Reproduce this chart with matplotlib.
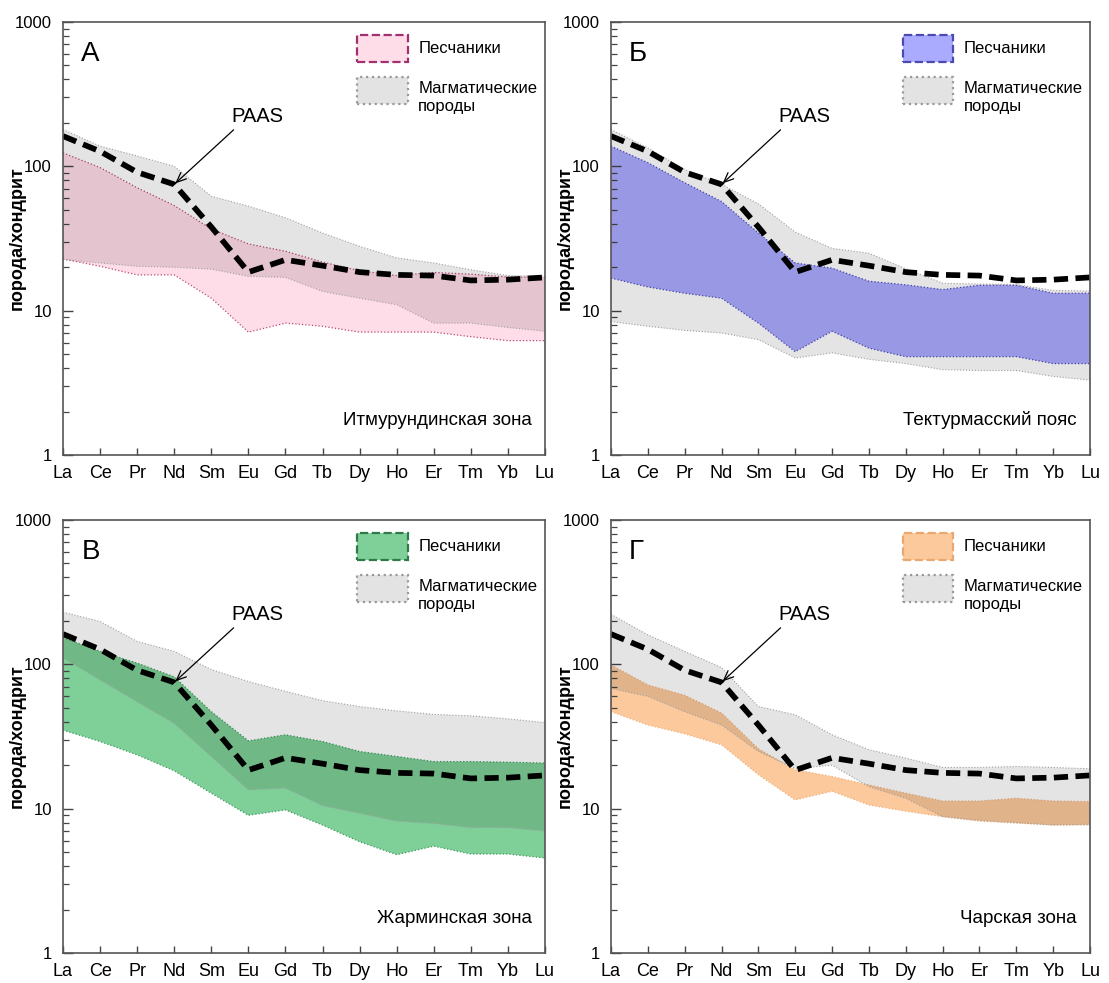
import numpy as np
import matplotlib
matplotlib.use("Agg")
import matplotlib.pyplot as plt
from matplotlib.patches import Rectangle
from matplotlib.ticker import LogLocator, NullFormatter

plt.rcParams['font.family'] = ['Liberation Sans', 'DejaVu Sans']

# Rare earth elements (x categories)
ree = ['La', 'Ce', 'Pr', 'Nd', 'Sm', 'Eu', 'Gd', 'Tb', 'Dy', 'Ho', 'Er', 'Tm', 'Yb', 'Lu']

# Post-Archean Australian Shale, chondrite-normalised
paas = [162, 127, 91, 75, 38, 18.5, 22.5, 20.5, 18.5, 17.7, 17.5, 16.2, 16.4, 17.0]

# А — Итмурундинская зона
sand_a_hi = [124, 98, 71, 53.5, 36.8, 29, 25.8, 21.7, 18.9, 17.5, 18.4, 17.9, 17.1, 17.0]
sand_a_lo = [22.8, 20.3, 17.7, 17.7, 12.2, 7.1, 8.2, 7.8, 7.1, 7.1, 7.1, 6.6, 6.2, 6.2]
magm_a_hi = [180, 138, 118, 100, 62, 53, 44, 34.5, 27.9, 23.2, 21.4, 19.2, 17.5, 17.3]
magm_a_lo = [22.6, 21.4, 20.3, 20, 19.4, 17.3, 17.0, 13.6, 12.2, 11.0, 8.2, 8.2, 7.65, 7.2]

# Б — Тектурмасский пояс
sand_b_hi = [138, 106, 77, 57, 34.5, 21.4, 19.7, 16, 15.1, 14, 15, 15, 13.2, 13.2]
sand_b_lo = [16.8, 14.6, 13.2, 12.2, 8.2, 5.2, 7.2, 5.5, 4.8, 4.8, 4.8, 4.8, 4.3, 4.3]
magm_b_hi = [180, 134, 95, 75, 55, 35, 27, 25, 19.5, 15.5, 15.3, 15.2, 13.8, 13.7]
magm_b_lo = [8.4, 7.8, 7.3, 7.0, 6.3, 4.7, 5.1, 4.6, 4.3, 3.9, 3.85, 3.85, 3.5, 3.3]

# В — Жарминская зона
sand_c_hi = [153, 123, 102, 82, 47, 29.5, 32.5, 29.2, 24.9, 23, 21.2, 21.2, 21, 20.7]
sand_c_lo = [35, 29.2, 23.6, 18.3, 12.8, 9.0, 9.8, 7.7, 5.9, 4.8, 5.5, 4.85, 4.85, 4.55]
magm_c_hi = [230, 198, 144, 123, 92, 76, 65, 56, 51, 47.6, 45, 44, 41.9, 39.5]
magm_c_lo = [111, 78, 55, 39, 23, 13.5, 13.9, 10.5, 9.3, 8.2, 7.9, 7.4, 7.4, 7.0]

# Г — Чарская зона
sand_d_hi = [99, 72, 61, 46, 26, 18.6, 16.7, 14.6, 12.8, 11.3, 11.3, 11.8, 11.3, 11.2]
sand_d_lo = [47, 38, 33, 27.7, 17.2, 11.5, 13.2, 10.6, 9.6, 8.8, 8.2, 7.95, 7.7, 7.7]
magm_d_hi = [222, 160, 123, 95, 51, 44.7, 32.5, 25.6, 22.4, 19.3, 19.3, 19.6, 19.3, 18.9]
magm_d_lo = [68, 60, 47, 38, 24.9, 19, 20, 14.2, 11.8, 8.8, 8.3, 8.0, 7.7, 7.8]

letters = ['А', 'Б', 'В', 'Г']
zones = ['Итмурундинская зона', 'Тектурмасский пояс', 'Жарминская зона', 'Чарская зона']
sand_label = 'Песчаники'
magm_label = 'Магматические\nпороды'
y_label = 'порода/хондрит'

W, H = 1109, 983
fig = plt.figure(figsize=(W / 100, H / 100), dpi=100)


def add_ax(left, right, top, bottom):
    return fig.add_axes([left / W, 1 - bottom / H, (right - left) / W, (bottom - top) / H])


panels = [
    dict(box=(63, 545, 22, 455), hi=sand_a_hi, lo=sand_a_lo, mhi=magm_a_hi, mlo=magm_a_lo,
         face='#ffdde8', edge='#b8487f', legend_edge='#a03070'),
    dict(box=(611, 1090, 22, 455), hi=sand_b_hi, lo=sand_b_lo, mhi=magm_b_hi, mlo=magm_b_lo,
         face='#aaaaff', edge='#4a4ac0', legend_edge='#4a4ab0'),
    dict(box=(63, 545, 520, 953), hi=sand_c_hi, lo=sand_c_lo, mhi=magm_c_hi, mlo=magm_c_lo,
         face='#7ecf98', edge='#3f9a5e', legend_edge='#2f7a48'),
    dict(box=(611, 1090, 520, 953), hi=sand_d_hi, lo=sand_d_lo, mhi=magm_d_hi, mlo=magm_d_lo,
         face='#fbc99c', edge='#f0b27c', legend_edge='#e8a870'),
]

x = np.arange(len(ree))
gray_overlay = (0, 0, 0, 0.105)
gray_edge = '#a0a0a0'

for i, p in enumerate(panels):
    ax = add_ax(*p['box'])

    # sandstone field
    ax.fill_between(x, p['lo'], p['hi'], facecolor=p['face'], edgecolor='none', zorder=1)
    ax.plot(x, p['hi'], ls=':', lw=0.9, color=p['edge'], zorder=1.5)
    ax.plot(x, p['lo'], ls=':', lw=0.9, color=p['edge'], zorder=1.5)

    # magmatic rocks field (translucent so overlaps darken)
    ax.fill_between(x, p['mlo'], p['mhi'], facecolor=gray_overlay, edgecolor='none', zorder=2)
    ax.plot(x, p['mhi'], ls=':', lw=0.8, color=gray_edge, zorder=2.5)
    ax.plot(x, p['mlo'], ls=':', lw=0.8, color=gray_edge, zorder=2.5)

    # PAAS reference curve
    ax.plot(x, paas, color='black', lw=4.1, dashes=(2.5, 1.3), zorder=4)

    ax.set_yscale('log')
    ax.set_ylim(1, 1000)
    ax.set_xlim(0, len(ree) - 1)
    ax.set_xticks(x)
    ax.set_xticklabels(ree, fontsize=13)
    ax.set_yticks([1, 10, 100, 1000])
    ax.set_yticklabels(['1', '10', '100', '1000'], fontsize=12)
    ax.yaxis.set_minor_locator(LogLocator(base=10, subs=np.arange(2, 10)))
    ax.yaxis.set_minor_formatter(NullFormatter())
    ax.tick_params(axis='both', which='both', direction='in', top=False, right=False,
                   color='#444444')
    ax.tick_params(axis='y', which='major', length=7, width=1, pad=8)
    ax.tick_params(axis='y', which='minor', length=4, width=0.9)
    ax.tick_params(axis='x', which='major', length=5, width=1, pad=7)
    for s in ax.spines.values():
        s.set_color('#555555')
        s.set_linewidth(1.2)
        s.set_zorder(6)

    ax.set_ylabel(y_label, fontsize=13, fontweight='bold')
    ax.yaxis.set_label_coords(-0.077, 0.5)

    # panel letter and zone name
    ax.text(0.038, 0.925, letters[i], transform=ax.transAxes, fontsize=20,
            ha='left', va='center')
    ax.text(0.972, 0.08, zones[i], transform=ax.transAxes, fontsize=13.5,
            ha='right', va='center')

    # PAAS label with arrow
    ax.text(0.403, 0.781, 'PAAS', transform=ax.transAxes, fontsize=14.5,
            ha='center', va='center')
    ax.annotate('', xy=(3, paas[3]), xycoords='data',
                xytext=(0.354, 0.751), textcoords='axes fraction',
                arrowprops=dict(arrowstyle='->,head_length=0.7,head_width=0.3',
                                color='black', lw=0.9, shrinkA=0, shrinkB=1),
                zorder=5)

    # legend
    ax.add_patch(Rectangle((0.61, 0.908), 0.105, 0.062, transform=ax.transAxes,
                           facecolor=p['face'], edgecolor=p['legend_edge'],
                           ls='--', lw=1.6, zorder=5))
    ax.add_patch(Rectangle((0.61, 0.811), 0.105, 0.062, transform=ax.transAxes,
                           facecolor='#e3e3e3', edgecolor='#9a9a9a',
                           ls=':', lw=1.6, zorder=5))
    ax.text(0.737, 0.938, sand_label, transform=ax.transAxes, fontsize=12,
            ha='left', va='center')
    ax.text(0.737, 0.826, magm_label, transform=ax.transAxes, fontsize=12,
            ha='left', va='center', linespacing=1.3)

fig.savefig('out.png', dpi=100)
